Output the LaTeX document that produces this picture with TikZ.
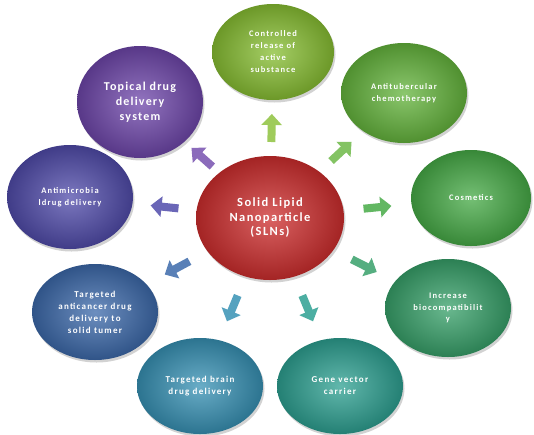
\documentclass[tikz,border=0pt]{standalone}
\usepackage{fontspec}
\setmainfont{Carlito}
\newfontfamily\satfont[LetterSpace=14]{Carlito}
\newfontfamily\topfont[LetterSpace=10]{Carlito}
\newfontfamily\midfont[LetterSpace=11]{Carlito}
\usetikzlibrary{shapes.geometric,arrows.meta,shadows,calc}
\definecolor{cRed}{RGB}{205,45,45}
\definecolor{cCtrl}{RGB}{135,190,50}
\definecolor{cTub}{RGB}{100,180,60}
\definecolor{cCos}{RGB}{70,170,70}
\definecolor{cBio}{RGB}{55,160,105}
\definecolor{cGene}{RGB}{45,160,145}
\definecolor{cBrain}{RGB}{55,145,180}
\definecolor{cCan}{RGB}{60,105,170}
\definecolor{cMic}{RGB}{80,75,170}
\definecolor{cTop}{RGB}{110,70,170}
\tikzset{
  ball/.style n args={3}{ellipse, minimum width=#2pt, minimum height=#3pt, inner sep=0pt,
    shading=radial, inner color=#1!75!white, outer color=#1!80!black,
    drop shadow={shadow xshift=1.5pt, shadow yshift=-2.5pt, opacity=0.35},
    text=white, align=center, font=\satfont\bfseries\fontsize{8.5}{11.5}\selectfont},
  blockarrow/.style={line width=8pt, draw=#1, -{Triangle[length=11pt,width=20pt]}}
}
\newcommand{\blockto}[2]{%
  \path (c) -- (#1) coordinate[pos=0.5] (m#1);
  \draw[blockarrow=#2] ($(m#1)!14pt!(c)$) -- ($(m#1)!14pt!(#1)$);}
\begin{document}
\begin{tikzpicture}[x=1pt,y=-1pt]
\useasboundingbox (0,0) rectangle (534,434);
\fill[white] (0,0) rectangle (534,434);
\node[ball={cRed}{148}{124}, font=\midfont\bfseries\fontsize{12.5}{14.5}\selectfont] (c) at (270,218) {Solid Lipid\\Nanoparticle\\(SLNs)};
\node[ball={cCtrl}{122}{96}, font=\satfont\bfseries\fontsize{8.5}{12}\selectfont] (ctrl) at (273,52) {Controlled\\release of\\active\\substance};
\node[ball={cTop}{126}{112}, font=\topfont\bfseries\fontsize{12}{15}\selectfont] (top) at (140,102) {Topical drug\\delivery\\system};
\node[ball={cTub}{126}{100}] (tub) at (404,93) {Antitubercular\\chemotherapy};
\node[ball={cCos}{120}{96}] (cos) at (471,198) {Cosmetics};
\node[ball={cMic}{126}{104}] (mic) at (70,197) {Antimicrobia\\ldrug delivery};
\node[ball={cCan}{126}{96}, font=\satfont\bfseries\fontsize{9}{12}\selectfont] (can) at (95,312) {Targeted\\anticancer drug\\delivery to\\solid tumer};
\node[ball={cBrain}{126}{96}, font=\satfont\bfseries\fontsize{9}{12}\selectfont] (brain) at (200,386) {Targeted brain\\drug delivery};
\node[ball={cGene}{126}{96}, font=\satfont\bfseries\fontsize{9}{12}\selectfont] (gene) at (340,386) {Gene vector\\carrier};
\node[ball={cBio}{126}{98}] (bio) at (448,308) {Increase\\biocompatibilit\\y};
\blockto{ctrl}{cCtrl!80!white}
\blockto{top}{cTop!80!white}
\blockto{tub}{cTub!80!white}
\blockto{cos}{cCos!85!white}
\blockto{mic}{cMic!85!white}
\blockto{can}{cCan!85!white}
\blockto{brain}{cBrain!85!white}
\blockto{gene}{cGene!85!white}
\blockto{bio}{cBio!85!white}
\end{tikzpicture}
\end{document}
